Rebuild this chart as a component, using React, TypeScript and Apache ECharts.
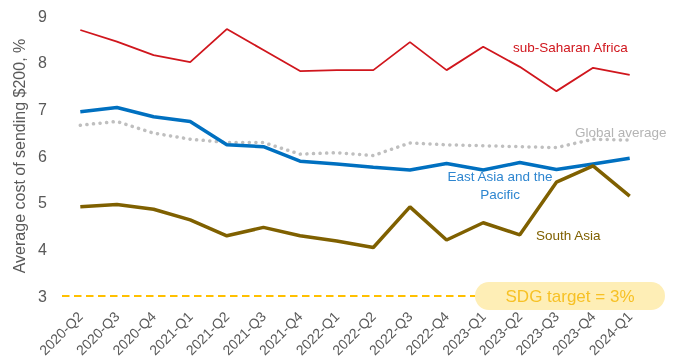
import React, { useEffect, useRef } from "react";
import * as echarts from "echarts";

const categories = [
  "2020-Q2", "2020-Q3", "2020-Q4", "2021-Q1", "2021-Q2", "2021-Q3", "2021-Q4", "2022-Q1",
  "2022-Q2", "2022-Q3", "2022-Q4", "2023-Q1", "2023-Q2", "2023-Q3", "2023-Q4", "2024-Q1",
];
const subSaharanAfrica = [8.70, 8.45, 8.16, 8.01, 8.72, 8.27, 7.82, 7.84, 7.84, 8.44, 7.84, 8.34, 7.91, 7.39, 7.89, 7.74];
const globalAverage = [6.66, 6.74, 6.49, 6.36, 6.29, 6.29, 6.04, 6.07, 6.01, 6.28, 6.24, 6.22, 6.20, 6.18, 6.36, 6.34];
const eastAsiaPacific = [6.95, 7.04, 6.84, 6.74, 6.24, 6.20, 5.89, 5.83, 5.76, 5.70, 5.84, 5.70, 5.86, 5.71, 5.83, 5.95];
const southAsia = [4.91, 4.96, 4.86, 4.63, 4.29, 4.47, 4.29, 4.18, 4.04, 4.91, 4.20, 4.57, 4.31, 5.44, 5.79, 5.14];
const sdgTarget = 3;
const yTicks = { min: 3, max: 9, interval: 1 };

const FONT = "Liberation Sans, Arial, sans-serif";

export default function App() {
  const ref = useRef<HTMLDivElement>(null);
  useEffect(() => {
    if (!ref.current) return;
    const chart = echarts.init(ref.current, undefined, { renderer: "svg" });
    chart.setOption({
      animation: false,
      grid: { left: 62, right: 27, top: 16, bottom: 64, containLabel: false },
      xAxis: {
        type: "category",
        data: categories,
        boundaryGap: true,
        axisLine: { show: false },
        axisTick: { show: false },
        axisLabel: { rotate: 45, color: "#595959", fontSize: 14, fontFamily: FONT, margin: 18, interval: 0 },
        splitLine: { show: false },
      },
      yAxis: {
        type: "value",
        min: yTicks.min,
        max: yTicks.max,
        interval: yTicks.interval,
        name: "Average cost of sending $200, %",
        nameLocation: "middle",
        nameGap: 35,
        nameTextStyle: { color: "#595959", fontSize: 16, fontFamily: FONT },
        axisLine: { show: false },
        axisTick: { show: false },
        splitLine: { show: false },
        axisLabel: { color: "#595959", fontSize: 16, fontFamily: FONT, margin: 15 },
      },
      series: [
        {
          name: "sub-Saharan Africa",
          type: "line",
          data: subSaharanAfrica,
          symbol: "none",
          lineStyle: { color: "#d0161d", width: 1.8 },
          z: 3,
        },
        {
          name: "Global average",
          type: "line",
          data: globalAverage,
          symbol: "none",
          lineStyle: { color: "#bfbfbf", width: 3.5, type: [0.1, 6.5], cap: "round" },
          z: 2,
          markLine: {
            silent: true,
            symbol: "none",
            label: { show: false },
            lineStyle: { color: "#ffc000", width: 2.2, type: [7.5, 4.5] },
            data: [{ yAxis: sdgTarget }],
          },
        },
        {
          name: "East Asia and the Pacific",
          type: "line",
          data: eastAsiaPacific,
          symbol: "none",
          lineStyle: { color: "#0070c0", width: 3.5 },
          z: 4,
        },
        {
          name: "South Asia",
          type: "line",
          data: southAsia,
          symbol: "none",
          lineStyle: { color: "#7f6000", width: 3.5 },
          z: 5,
        },
      ],
      graphic: [
        {
          type: "text",
          x: 513,
          y: 40,
          style: { text: "sub-Saharan Africa", fill: "#d0161d", fontSize: 13.5, fontFamily: FONT },
        },
        {
          type: "text",
          x: 575,
          y: 125,
          style: { text: "Global average", fill: "#b4b4b4", fontSize: 13.5, fontFamily: FONT },
        },
        {
          type: "text",
          x: 500,
          y: 169,
          style: { text: "East Asia and the", fill: "#2e86d0", fontSize: 13.5, fontFamily: FONT, align: "center" },
        },
        {
          type: "text",
          x: 500,
          y: 187,
          style: { text: "Pacific", fill: "#2e86d0", fontSize: 13.5, fontFamily: FONT, align: "center" },
        },
        {
          type: "text",
          x: 536,
          y: 228,
          style: { text: "South Asia", fill: "#7f6000", fontSize: 13.5, fontFamily: FONT },
        },
        {
          type: "rect",
          z: 100,
          zlevel: 1,
          shape: { x: 475, y: 282, width: 190, height: 28, r: 14 },
          style: { fill: "#feeeb6" },
        },
        {
          type: "text",
          z: 101,
          zlevel: 1,
          x: 570,
          y: 296,
          style: { text: "SDG target = 3%", fill: "#f7c125", fontSize: 17, fontFamily: FONT, align: "center", verticalAlign: "middle" },
        },
      ],
    });
    return () => chart.dispose();
  }, []);
  return <div ref={ref} style={{ position: "fixed", left: 0, top: 0, width: 675, height: 360 }} />;
}
